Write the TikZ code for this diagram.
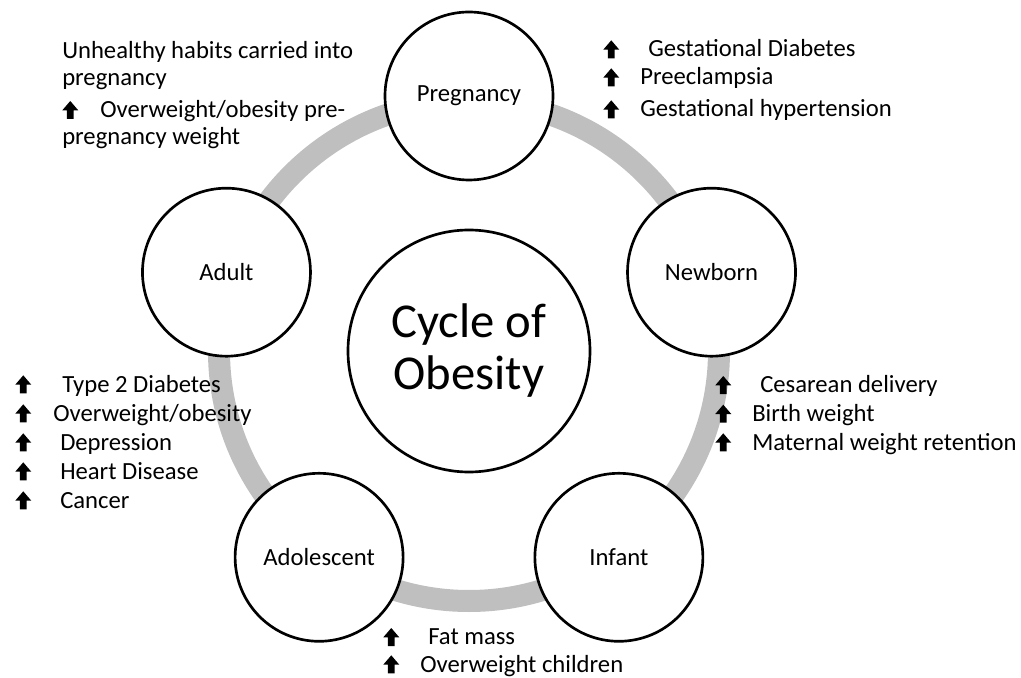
\documentclass[tikz,border=0pt]{standalone}
\usepackage{fontspec}
\setmainfont{Carlito}
\definecolor{ringgray}{RGB}{191,191,191}

% bold up arrow in front of each risk
\newcommand{\incr}{\tikz[baseline=0pt]\fill (3.5pt,-1pt) -- (8.5pt,-1pt) -- (8.5pt,5.5pt) -- (12pt,5.5pt) -- (6pt,12.5pt) -- (0pt,5.5pt) -- (3.5pt,5.5pt) -- cycle;}

\begin{document}
\begin{tikzpicture}[x=0.75pt, y=0.75pt,
    stage/.style={circle, draw, line width=2pt, fill=white, minimum size=126pt, inner sep=0pt, font=\fontsize{18.5pt}{21pt}\selectfont},
    hub/.style={circle, draw, line width=2pt, fill=white, minimum size=181.5pt, inner sep=0pt, align=center, font=\fontsize{36.5pt}{39pt}\selectfont},
    notes/.style={anchor=base west, align=left, inner sep=0pt, font=\fontsize{18.5pt}{21pt}\selectfont}]
    \useasboundingbox (-469,-327) rectangle (552,351);

    % Ring
    \draw[line width=16.5pt, ringgray] (0,0) circle (250);

    % Hub
    \node[hub] (hub) at (0,0) {Cycle of\\Obesity};

    % Stages
    \node[stage] (pregnancy) at (90:255) {Pregnancy};
    \node[stage] (newborn) at (18:255) {Newborn};
    \node[stage] (infant) at (-54:255) {Infant};
    \node[stage] (adolescent) at (-126:255) {Adolescent};
    \node[stage] (adult) at (162:255) {Adult};

    % Risks (placed at the baseline of their last line)
    \node[notes, font=\fontsize{18.5pt}{20.5pt}\selectfont] (adult-notes) at (-407,206) {Unhealthy habits carried into\\pregnancy\\[3.5pt]\incr\hspace{16.5pt}Overweight/obesity pre-\\pregnancy weight};
    \node[notes] (pregnancy-notes) at (134,234) {\incr\hspace{21.75pt}Gestational Diabetes\\\incr\hspace{15.75pt}Preeclampsia\\[3pt]\incr\hspace{15.75pt}Gestational hypertension};
    \node[notes, font=\fontsize{18.5pt}{21.5pt}\selectfont] (newborn-notes) at (246,-99) {\incr\hspace{21.75pt}Cesarean delivery\\\incr\hspace{15.75pt}Birth weight\\\incr\hspace{15.75pt}Maternal weight retention};
    \node[notes, font=\fontsize{18.5pt}{20.5pt}\selectfont] (adolescent-notes) at (-86,-321) {\incr\hspace{21.75pt}Fat mass\\\incr\hspace{15.75pt}Overweight children};
    \node[notes, font=\fontsize{18.5pt}{21.75pt}\selectfont] (later-notes) at (-454,-157) {\incr\hspace{23.25pt}Type 2 Diabetes\\\incr\hspace{16.5pt}Overweight/obesity\\\incr\hspace{21.75pt}Depression\\\incr\hspace{21.75pt}Heart Disease\\\incr\hspace{21.75pt}Cancer};
\end{tikzpicture}
\end{document}
